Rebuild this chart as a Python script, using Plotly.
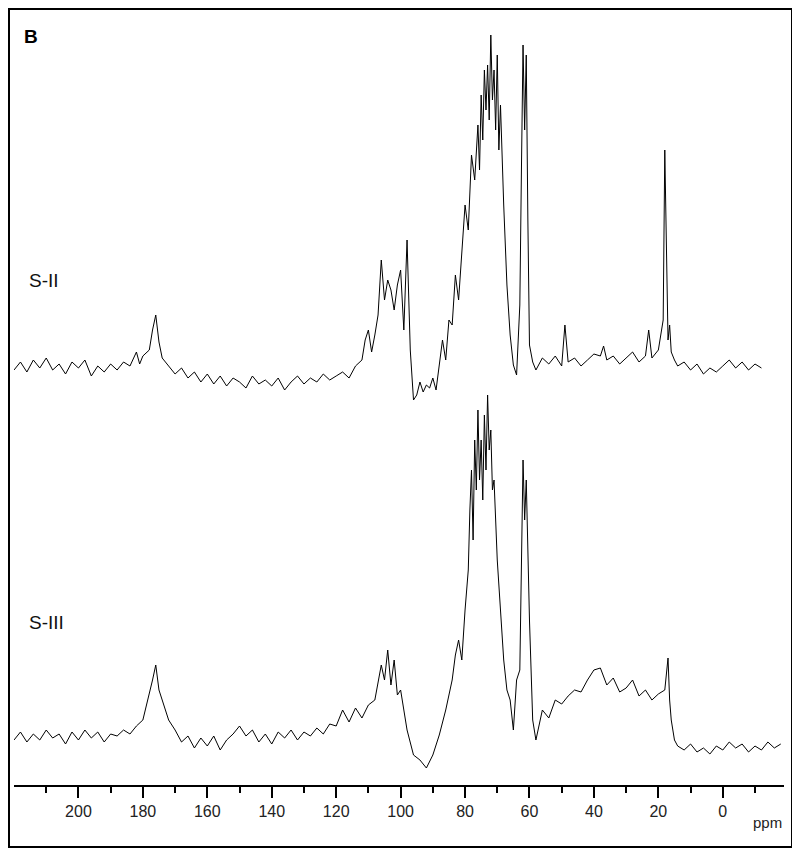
import plotly.graph_objects as go

# S-II spectrum: chemical shift (ppm) and intensity above baseline
s2_ppm = [220, 218, 216, 214, 212, 210, 208, 206, 204, 202, 200, 198, 196, 194, 192, 190, 188, 186, 184, 182, 181, 180, 178, 177, 176, 175, 174, 172, 170, 168, 166, 164, 162, 160, 158, 156, 154, 152, 150, 148, 146, 144, 142, 140, 138, 136, 134, 132, 130, 128, 126, 124, 122, 120, 118, 116, 114, 112, 111, 110, 109, 108, 107, 106, 105, 104, 103, 102, 101, 100, 99, 98, 97, 96, 95, 94, 93, 92, 91, 90, 89, 88, 87, 86, 85, 84, 83, 82, 81, 80, 79, 78, 77, 76, 75.5, 75, 74.5, 74, 73.5, 73, 72.5, 72, 71.5, 71, 70.5, 70, 69.5, 69, 68, 67, 66, 65, 64, 63, 62.5, 62, 61.5, 61, 60.5, 60, 59, 58, 56, 54, 52, 50, 49, 48, 46, 44, 42, 40, 38, 37, 36, 34, 32, 30, 28, 26, 24, 23, 22, 20, 18.5, 18, 17.5, 17, 16.5, 16, 15, 14, 12, 10, 8, 6, 4, 2, 0, -2, -4, -6, -8, -10, -12, -14, -16, -18, -20]
s2_int = [0, 8, -2, 10, 2, 12, 0, 6, -4, 8, 2, 10, -6, 4, -2, 6, 0, 8, 4, 18, 6, 14, 20, 40, 55, 28, 12, 4, -4, 2, -8, -2, -12, -4, -14, -6, -16, -8, -12, -18, -6, -14, -10, -16, -8, -20, -12, -6, -14, -8, -12, -4, -10, -6, -2, -8, 4, 10, 30, 40, 18, 35, 55, 110, 70, 90, 80, 60, 85, 100, 40, 130, 20, -30, -25, -12, -22, -15, -18, -8, -20, 5, 30, 10, 50, 45, 95, 70, 120, 165, 140, 215, 190, 245, 200, 275, 230, 300, 260, 305, 250, 335, 270, 300, 240, 315, 220, 265, 165, 85, 35, 5, -5, 65, 200, 325, 240, 315, 150, 25, 8, 0, 12, 6, 14, 4, 45, 8, 12, 4, 10, 16, 14, 24, 10, 14, 6, 12, 18, 8, 14, 40, 12, 20, 50, 220, 120, 30, 45, 18, 10, 4, 8, 0, 6, -4, 2, -2, 4, 10, 2, 8, 0, 6, 2]

# S-III spectrum
s3_ppm = [220, 218, 216, 214, 212, 210, 208, 206, 204, 202, 200, 198, 196, 194, 192, 190, 188, 186, 184, 182, 180, 178, 177, 176, 175, 174, 172, 170, 168, 166, 164, 162, 160, 158, 156, 154, 152, 150, 148, 146, 144, 142, 140, 138, 136, 134, 132, 130, 128, 126, 124, 122, 120, 118, 116, 114, 112, 110, 108, 106, 105, 104, 103, 102, 101, 100, 99, 98, 96, 94, 92, 90, 88, 86, 84, 83, 82, 81, 80, 79, 78.5, 78, 77.5, 77, 76.5, 76, 75.5, 75, 74.5, 74, 73.5, 73, 72.5, 72, 71.5, 71, 70, 69, 68, 67, 66, 65, 64, 63, 62.5, 62, 61.5, 61, 60, 59, 58, 56, 54, 52, 50, 48, 46, 44, 42, 40, 38, 36, 34, 32, 30, 28, 26, 24, 22, 20, 18, 17.5, 17, 16.5, 16, 15, 14, 12, 10, 8, 6, 4, 2, 0, -2, -4, -6, -8, -10, -12, -14, -16, -18, -20]
s3_int = [0, 8, -2, 6, 0, 10, 2, 6, -4, 8, 0, 10, 2, 8, -2, 6, 4, 10, 6, 14, 20, 45, 60, 75, 50, 40, 20, 10, -2, 4, -8, 2, -6, 4, -10, 0, 6, 14, 4, 10, -2, 6, -4, 8, 2, 10, 0, 8, 4, 12, 6, 16, 14, 30, 18, 32, 22, 35, 40, 75, 60, 90, 55, 80, 45, 50, 30, 10, -15, -20, -28, -15, 5, 30, 60, 85, 100, 80, 130, 170, 230, 270, 200, 300, 250, 330, 260, 300, 240, 325, 270, 345, 290, 310, 250, 260, 180, 130, 80, 50, 40, 10, 60, 70, 180, 280, 220, 260, 120, 20, 0, 30, 22, 40, 36, 44, 50, 48, 60, 70, 72, 55, 62, 48, 52, 60, 44, 50, 40, 46, 50, 65, 82, 40, 20, 0, -6, -10, -4, -12, -8, -14, -6, -10, -2, -8, -4, -12, -6, -10, -2, -8, -4]

s2_base = 415
s3_base = 45

fig = go.Figure()
fig.add_trace(go.Scatter(x=s2_ppm, y=[s2_base + v for v in s2_int], mode="lines",
                         line=dict(color="black", width=1), showlegend=False))
fig.add_trace(go.Scatter(x=s3_ppm, y=[s3_base + v for v in s3_int], mode="lines",
                         line=dict(color="black", width=1), showlegend=False))

fig.update_xaxes(range=[220, -19], tickvals=list(range(200, -1, -20)), ticks="outside",
                 ticklen=11, tickwidth=2, tickcolor="black", showline=True, linecolor="black",
                 linewidth=2, showgrid=False, zeroline=False,
                 minor=dict(tickvals=list(range(210, -20, -20)), ticks="outside", ticklen=6, tickwidth=2, tickcolor="black"),
                 tickfont=dict(family="Liberation Sans", size=16, color="#222"))
fig.update_yaxes(range=[0, 765], visible=False)

fig.add_shape(type="rect", xref="paper", yref="paper", x0=-5 / 770, x1=1 + 8 / 770,
              y0=-62 / 765, y1=1 + 11 / 765, line=dict(color="black", width=2))
fig.add_annotation(text="<b>B</b>", xref="paper", yref="paper", x=0.01, y=0.995,
                   showarrow=False, xanchor="left", yanchor="top", font=dict(family="Liberation Sans", size=19, color="black"))
fig.add_annotation(text="S-II", xref="paper", yref="paper", x=0.017, y=(785 - 268) / 765,
                   showarrow=False, xanchor="left", font=dict(family="Liberation Sans", size=19, color="#111"))
fig.add_annotation(text="S-III", xref="paper", yref="paper", x=0.017, y=(785 - 635) / 765,
                   showarrow=False, xanchor="left", font=dict(family="Liberation Sans", size=19, color="#111"))
fig.add_annotation(text="ppm", xref="paper", yref="paper", x=1.0, y=-37 / 765,
                   showarrow=False, xanchor="right", yanchor="middle", font=dict(family="Liberation Sans", size=15, color="#222"))

fig.update_layout(width=800, height=857, margin=dict(l=6, r=24, t=12, b=80),
                  plot_bgcolor="white", paper_bgcolor="white")
fig.write_html("out.html")
